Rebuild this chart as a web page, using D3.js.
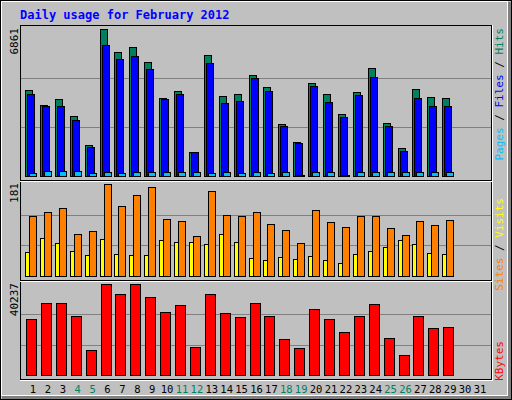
<!DOCTYPE html>
<html><head><meta charset="utf-8">
<script src="https://cdn.jsdelivr.net/npm/d3@7"></script>
<style>body{margin:0;background:#fff}text{font-family:"DejaVu Sans Mono",monospace}</style>
</head><body>
<svg id="c" width="512" height="400"></svg>
<script>
const days = d3.range(1, 32);
const weekend = [4, 5, 11, 12, 18, 19, 25, 26];
const hits = [4014,3300,3594,2786,1432,6861,5773,6007,5307,3625,3967,1105,5633,3718,3812,4700,4140,2413,1573,4327,3812,2880,3906,5027,2460,1293,4047,3673,3625];
const files = [3812,3253,3253,2600,1340,6100,5447,5587,4980,3580,3812,1105,5260,3392,3486,4560,3953,2320,1526,4187,3440,2740,3767,4607,2320,1153,3625,3253,3253];
const pages = [130,230,230,230,130,200,130,200,200,200,200,200,130,200,130,200,130,200,40,200,200,40,200,200,200,200,200,200,200];
const sites = [118,126,134,83,89,181,138,159,175,112,108,79,167,120,118,126,102,91,65,130,106,96,118,118,94,81,108,100,110];
const visits = [47,75,65,49,41,73,43,41,41,71,67,67,63,83,67,35,31,37,33,39,31,26,43,49,57,71,63,45,43];
const kbytes = [24760,31840,31840,26090,11050,40237,35820,40237,34490,27860,30950,12380,35820,27420,25650,31840,26090,15920,11940,29190,24760,19010,26090,31400,16360,8840,26090,20780,21220];

const svg = d3.select("#c");
svg.append("rect").attr("x", 0.5).attr("y", 0.5).attr("width", 511).attr("height", 399).attr("fill", "#c0c0c0").attr("stroke", "#000");
svg.append("rect").attr("x", 1.5).attr("y", 1.5).attr("width", 506).attr("height", 394).attr("fill", "none").attr("stroke", "#fff");
svg.append("rect").attr("x", 508).attr("y", 2).attr("width", 3).attr("height", 397).attr("fill", "#808080");
svg.append("rect").attr("x", 2).attr("y", 396).attr("width", 509).attr("height", 3).attr("fill", "#808080");

svg.append("text").attr("x", 20).attr("y", 19).attr("fill", "#0000ff").attr("font-size", 12).attr("font-weight", "bold").text("Daily usage for February 2012");

const x = d3.scaleLinear().domain([1, 31]).range([33, 480]);
const L = 20, R = 491;

function panel(y0, y1, base, max) {
  const y = d3.scaleLinear().domain([0, max]).range([base, y0 + 4]);
  svg.append("rect").attr("x", L + 0.5).attr("y", y0 + 0.5).attr("width", R - L).attr("height", y1 - y0).attr("fill", "#c0c0c0").attr("stroke", "#000");
  [1 / 3, 2 / 3].forEach(f => {
    svg.append("line").attr("x1", L + 1).attr("x2", R).attr("y1", Math.round(y(max * f)) + 0.5).attr("y2", Math.round(y(max * f)) + 0.5).attr("stroke", "#808080");
  });
  return y;
}

function bars(data, y, dx, w, color) {
  svg.append("g").selectAll("rect").data(data).join("rect")
    .attr("x", (d, i) => Math.round(x(i + 1)) + dx + 0.5)
    .attr("y", d => Math.round(y(d)) + 0.5)
    .attr("width", w)
    .attr("height", d => Math.max(1, y(0) - Math.round(y(d))))
    .attr("fill", color).attr("stroke", "#000");
}

const y1 = panel(25, 180, 176, 6861);
bars(hits, y1, -8, 7, "#00805c");
bars(files, y1, -6, 7, "#0000ff");
bars(pages, y1, -4, 7, "#00c0ff");

const y2 = panel(180, 280, 276, 181);
bars(visits, y2, -8, 4, "#ffff00");
bars(sites, y2, -4, 7, "#ff8000");

const y3 = panel(280, 379, 375, 40237);
bars(kbytes, y3, -7, 10, "#ff0000");

// separators
[180, 280].forEach(v => svg.append("line").attr("x1", L).attr("x2", R + 1).attr("y1", v + 1.5).attr("y2", v + 1.5).attr("stroke", "#fff"));
svg.append("line").attr("x1", R + 1.5).attr("x2", R + 1.5).attr("y1", 25).attr("y2", 380).attr("stroke", "#fff");
svg.append("line").attr("x1", L).attr("x2", R + 2).attr("y1", 380.5).attr("y2", 380.5).attr("stroke", "#fff");

// day labels
svg.append("g").selectAll("text").data(days).join("text")
  .attr("x", d => x(d)).attr("y", 393).attr("text-anchor", "middle").attr("font-size", 10.5)
  .attr("fill", d => weekend.includes(d) ? "#00805c" : "#000").text(d => d);

// max labels
[[6861, 28], [181, 183], [40237, 283]].forEach(([v, t]) => {
  svg.append("text").attr("transform", `translate(18,${t}) rotate(-90)`).attr("text-anchor", "end")
    .attr("font-size", 11).attr("fill", "#000").text(v);
});

// right legends
function legend(parts, top) {
  const t = svg.append("text").attr("transform", `translate(503,${top}) rotate(-90)`).attr("text-anchor", "end").attr("font-size", 11);
  parts.forEach(([s, c]) => t.append("tspan").attr("fill", c).text(s));
}
legend([["Pages", "#00c0ff"], [" / ", "#000"], ["Files", "#0000ff"], [" / ", "#000"], ["Hits", "#00805c"]], 28);
legend([["Sites", "#ff8000"], [" / ", "#000"], ["Visits", "#ffff00"]], 198);
legend([["KBytes", "#ff0000"]], 341);
</script>
</body></html>
